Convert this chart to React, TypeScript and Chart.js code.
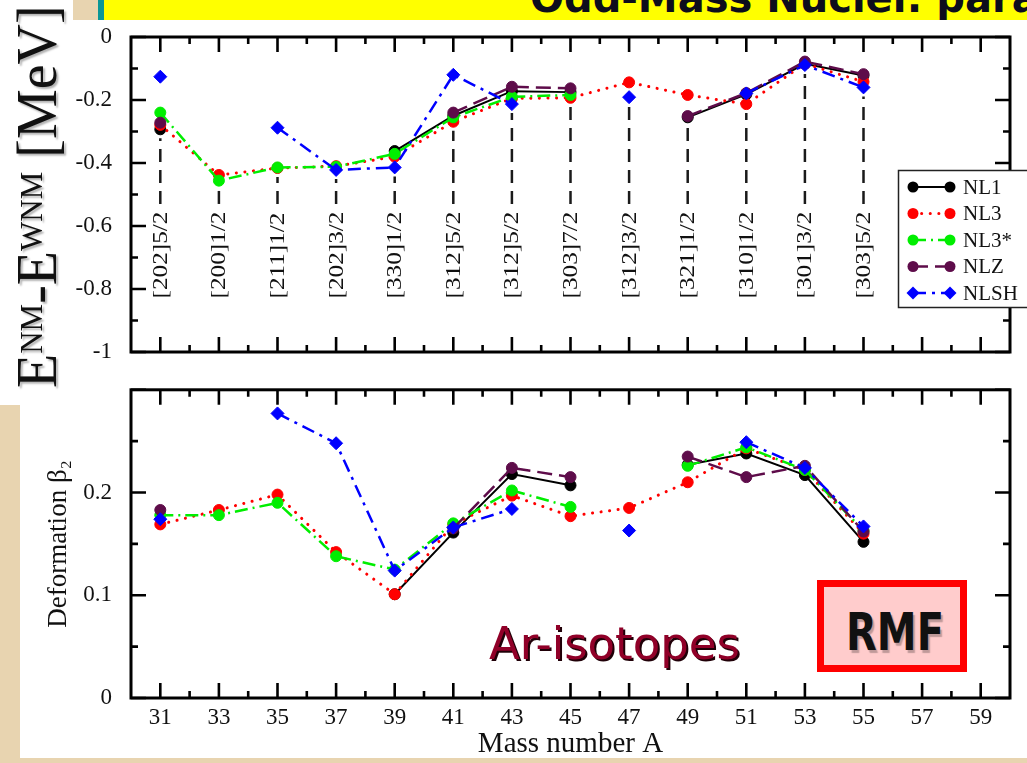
import React, { useEffect, useRef } from 'react';
import { Chart, registerables } from 'chart.js';

Chart.register(...registerables);

// ---------------- data ----------------
const massNumbers = [31, 33, 35, 37, 39, 41, 43, 45, 47, 49, 51, 53, 55];
const orbitalLabels = ['[202]5/2', '[200]1/2', '[211]1/2', '[202]3/2', '[330]1/2', '[312]5/2', '[312]5/2', '[303]7/2', '[312]3/2', '[321]1/2', '[310]1/2', '[301]3/2', '[303]5/2'];
const xTickLabels = [31, 33, 35, 37, 39, 41, 43, 45, 47, 49, 51, 53, 55, 57, 59];
const energyTickLabels = [0, -0.2, -0.4, -0.6, -0.8, -1];
const betaTickLabels = [0, 0.1, 0.2];
const seriesNames = ['NL1', 'NL3', 'NL3*', 'NLZ', 'NLSH'];

// E^NM - E^WNM [MeV]  (null = not computed)
const energyNL1 = [-0.293, null, null, null, -0.362, -0.25, -0.172, -0.175, null, -0.255, -0.182, -0.085, -0.122];
const energyNL3 = [-0.279, -0.438, -0.416, -0.41, -0.38, -0.269, -0.195, -0.193, -0.144, -0.184, -0.213, -0.085, -0.142];
const energyNL3s = [-0.24, -0.456, -0.414, -0.412, -0.371, -0.255, -0.19, -0.184, null, null, null, null, null];
const energyNLZ = [-0.272, null, null, null, null, -0.24, -0.158, -0.163, null, -0.251, -0.178, -0.078, -0.118];
const energyNLSH = [-0.126, null, -0.288, -0.422, -0.414, -0.12, -0.213, null, -0.191, null, -0.179, -0.089, -0.16];

// Deformation beta2
const betaNL1 = [null, null, null, null, 0.101, 0.161, 0.218, 0.207, null, 0.227, 0.238, 0.217, 0.152];
const betaNL3 = [0.169, 0.183, 0.198, 0.142, 0.101, 0.169, 0.197, 0.177, 0.185, 0.21, 0.243, 0.222, 0.16];
const betaNL3s = [0.178, 0.178, 0.19, 0.138, 0.125, 0.17, 0.202, 0.186, null, 0.226, 0.244, 0.222, 0.163];
const betaNLZ = [0.183, null, null, null, null, 0.165, 0.224, 0.215, null, 0.235, 0.215, 0.226, 0.162];
const betaNLSH = [0.174, null, 0.277, 0.248, 0.124, 0.166, 0.184, null, 0.163, null, 0.249, 0.224, 0.167];

// ---------------- styles ----------------
const SERIF = '"Liberation Serif", "Times New Roman", serif';
const BEIGE = '#e8d4b0';

const seriesStyles: any[] = [
  { color: '#000000', width: 2, dash: [], cap: 'butt', point: 'circle', radius: 5.5 },
  { color: '#ff0000', width: 3, dash: [0.1, 8.5], cap: 'round', point: 'circle', radius: 5.5 },
  { color: '#00ee00', width: 2.5, dash: [13, 5, 2, 5], cap: 'butt', point: 'circle', radius: 5.5 },
  { color: '#5e0c4a', width: 2.5, dash: [15, 7], cap: 'butt', point: 'circle', radius: 5.5 },
  { color: '#0000ff', width: 2.5, dash: [13, 6, 3, 6], cap: 'butt', point: 'rectRot', radius: 6.5 },
];

const xMinorTicks = xTickLabels.slice(0, -1).map((v) => v + 1);
const energyMinorTicks = energyTickLabels.slice(0, -1).map((v) => v - 0.1);
const betaMajorTicks = [...betaTickLabels, 0.3];
const betaMinorTicks = betaMajorTicks.slice(0, -1).map((v) => v + 0.05);

const fmt = (v: number) => String(Number(Number(v).toFixed(2)));

function makeDatasets(series: (number | null)[][]) {
  return series.map((vals, i) => {
    const s = seriesStyles[i];
    return {
      label: seriesNames[i],
      data: massNumbers.map((m, j) => ({ x: m, y: vals[j] })),
      borderColor: s.color,
      backgroundColor: s.color,
      borderWidth: s.width,
      borderDash: s.dash,
      borderCapStyle: s.cap,
      pointStyle: s.point,
      pointRadius: s.radius,
      pointBackgroundColor: s.color,
      pointBorderColor: s.color,
      pointBorderWidth: 1,
      spanGaps: false,
      tension: 0,
      order: 5 - i,
    };
  });
}

function makeFramePlugin(id: string, xMaj: number[], xMin: number[], yMaj: number[], yMin: number[]) {
  return {
    id,
    afterDatasetsDraw(chart: any) {
      const { ctx, chartArea: ca, scales } = chart;
      const xs = scales.x;
      const ys = scales.y;
      ctx.save();
      ctx.setLineDash([]);
      ctx.strokeStyle = '#000';
      ctx.lineCap = 'butt';
      ctx.lineWidth = 3;
      ctx.strokeRect(ca.left, ca.top, ca.right - ca.left, ca.bottom - ca.top);
      ctx.lineWidth = 2.6;
      ctx.beginPath();
      const tx = (v: number, len: number) => {
        const p = xs.getPixelForValue(v);
        ctx.moveTo(p, ca.bottom); ctx.lineTo(p, ca.bottom - len);
        ctx.moveTo(p, ca.top); ctx.lineTo(p, ca.top + len);
      };
      const ty = (v: number, len: number) => {
        const p = ys.getPixelForValue(v);
        ctx.moveTo(ca.left, p); ctx.lineTo(ca.left + len, p);
        ctx.moveTo(ca.right, p); ctx.lineTo(ca.right - len, p);
      };
      xMaj.forEach((v) => tx(v, 15));
      xMin.forEach((v) => tx(v, 7));
      yMaj.forEach((v) => ty(v, 15));
      yMin.forEach((v) => ty(v, 7));
      ctx.stroke();
      ctx.restore();
    },
  };
}

const orbitalLineEnd = -0.53;
const orbitalLabelBase = -0.83;

const orbitalPlugin = {
  id: 'orbitals',
  beforeDatasetsDraw(chart: any) {
    const { ctx, scales } = chart;
    const xs = scales.x;
    const ys = scales.y;
    ctx.save();
    massNumbers.forEach((m, j) => {
      const px = xs.getPixelForValue(m);
      let lowest = -Infinity;
      chart.data.datasets.forEach((ds: any) => {
        const v = ds.data[j].y;
        if (v !== null && v !== undefined) lowest = Math.max(lowest, ys.getPixelForValue(v));
      });
      const yEnd = ys.getPixelForValue(orbitalLineEnd);
      const yStart = lowest + 9;
      ctx.setLineDash([13, 8]);
      ctx.lineWidth = 2.5;
      ctx.strokeStyle = '#1a1a1a';
      ctx.beginPath();
      ctx.moveTo(px, yEnd);
      ctx.lineTo(px, yStart);
      ctx.stroke();
      ctx.setLineDash([]);
      ctx.save();
      ctx.translate(px, ys.getPixelForValue(orbitalLabelBase));
      ctx.rotate(-Math.PI / 2);
      ctx.scale(1.2, 1);
      ctx.font = '21px ' + SERIF;
      ctx.fillStyle = '#111';
      ctx.textAlign = 'left';
      ctx.textBaseline = 'middle';
      ctx.fillText(orbitalLabels[j], 0, 1);
      ctx.restore();
    });
    ctx.restore();
  },
};

function drawMarker(ctx: any, style: string, x: number, y: number, r: number) {
  ctx.beginPath();
  if (style === 'rectRot') {
    ctx.moveTo(x - r, y); ctx.lineTo(x, y - r); ctx.lineTo(x + r, y); ctx.lineTo(x, y + r); ctx.closePath();
  } else {
    ctx.arc(x, y, r, 0, Math.PI * 2);
  }
  ctx.fill();
}

const boxLegendPlugin = {
  id: 'boxLegend',
  afterDraw(chart: any) {
    const { ctx, chartArea } = chart;
    const bx = chartArea.right - 112;
    const by = chartArea.top + 133;
    const bw = 150;
    const bh = 137;
    ctx.save();
    ctx.setLineDash([]);
    ctx.fillStyle = '#fff';
    ctx.fillRect(bx, by, bw, bh);
    ctx.strokeStyle = '#222';
    ctx.lineWidth = 1.5;
    ctx.strokeRect(bx + 0.5, by + 0.5, bw, bh);
    chart.data.datasets.forEach((ds: any, i: number) => {
      const cy = by + 17 + i * 26.5;
      const x1 = bx + 15;
      const x2 = bx + 52;
      ctx.strokeStyle = ds.borderColor;
      ctx.lineWidth = ds.borderWidth;
      ctx.setLineDash(ds.borderDash || []);
      ctx.lineCap = ds.borderCapStyle || 'butt';
      ctx.beginPath();
      ctx.moveTo(x1, cy);
      ctx.lineTo(x2, cy);
      ctx.stroke();
      ctx.setLineDash([]);
      ctx.fillStyle = ds.borderColor;
      drawMarker(ctx, ds.pointStyle, x1, cy, ds.pointRadius);
      drawMarker(ctx, ds.pointStyle, x2, cy, ds.pointRadius);
      ctx.fillStyle = '#111';
      ctx.font = '21px ' + SERIF;
      ctx.textAlign = 'left';
      ctx.textBaseline = 'middle';
      ctx.fillText(ds.label, bx + 65, cy + 1);
    });
    ctx.restore();
  },
};

const tickFont = { family: SERIF, size: 23 };

function topConfig(): any {
  return {
    type: 'line',
    data: { datasets: makeDatasets([energyNL1, energyNL3, energyNL3s, energyNLZ, energyNLSH]) },
    options: {
      responsive: false,
      animation: false,
      layout: { padding: { top: 37, left: 0, right: 17, bottom: 0 } },
      plugins: { legend: { display: false }, tooltip: { enabled: false } },
      scales: {
        x: {
          type: 'linear', min: 30, max: 60,
          grid: { display: false }, border: { display: false },
          ticks: { display: false },
          afterFit(s: any) { s.height = 28; },
        },
        y: {
          type: 'linear', min: -1, max: 0,
          grid: { display: false }, border: { display: false },
          afterBuildTicks(s: any) { s.ticks = energyTickLabels.map((v) => ({ value: v })); },
          ticks: { font: tickFont, color: '#111', padding: 11, callback: (v: number) => fmt(v) },
          afterFit(s: any) { s.width = 131; },
        },
      },
    },
    plugins: [orbitalPlugin, makeFramePlugin('frameTop', xTickLabels, xMinorTicks, energyTickLabels, energyMinorTicks), boxLegendPlugin],
  };
}

function bottomConfig(): any {
  return {
    type: 'line',
    data: { datasets: makeDatasets([betaNL1, betaNL3, betaNL3s, betaNLZ, betaNLSH]) },
    options: {
      responsive: false,
      animation: false,
      layout: { padding: { top: 12, left: 0, right: 17, bottom: 0 } },
      plugins: { legend: { display: false }, tooltip: { enabled: false } },
      scales: {
        x: {
          type: 'linear', min: 30, max: 60,
          grid: { display: false }, border: { display: false },
          afterBuildTicks(s: any) { s.ticks = xTickLabels.map((v) => ({ value: v })); },
          ticks: { font: tickFont, color: '#111', padding: -2, maxRotation: 0, autoSkip: false, callback: (v: number) => fmt(v) },
          title: { display: true, text: 'Mass number A', font: { family: SERIF, size: 29, lineHeight: 1 }, color: '#111', padding: { top: 0, bottom: 4 } },
          afterFit(s: any) { s.height = 65; },
        },
        y: {
          type: 'linear', min: 0, max: 0.3,
          grid: { display: false }, border: { display: false },
          afterBuildTicks(s: any) { s.ticks = betaTickLabels.map((v) => ({ value: v })); },
          ticks: { font: tickFont, color: '#111', padding: 11, callback: (v: number) => fmt(v) },
          title: { display: true, text: 'Deformation β₂', font: { family: SERIF, size: 27, lineHeight: 1 }, color: '#111', padding: { top: 45, bottom: 0 } },
          afterFit(s: any) { s.width = 131; },
        },
      },
    },
    plugins: [makeFramePlugin('frameBottom', xTickLabels, xMinorTicks, betaMajorTicks, betaMinorTicks)],
  };
}

export default function App() {
  const topRef = useRef<HTMLCanvasElement>(null);
  const botRef = useRef<HTMLCanvasElement>(null);

  useEffect(() => {
    const top = new Chart(topRef.current as HTMLCanvasElement, topConfig());
    const bot = new Chart(botRef.current as HTMLCanvasElement, bottomConfig());
    return () => {
      top.destroy();
      bot.destroy();
    };
  }, []);

  const abs = (l: number, t: number, w: number, h: number, bg: string): React.CSSProperties => ({
    position: 'absolute', left: l, top: t, width: w, height: h, background: bg,
  });

  return (
    <div style={{ position: 'fixed', left: 0, top: 0, width: 1027, height: 763, overflow: 'hidden', background: '#fff' }}>
      <div style={abs(0, 405, 20, 358, BEIGE)} />
      <div style={abs(0, 758, 1027, 5, BEIGE)} />
      <div style={abs(73, 0, 25, 20, BEIGE)} />
      <div style={abs(98, 0, 6, 20, '#0a9696')} />
      <div style={{ ...abs(104, 0, 923, 20, '#ffff00'), overflow: 'hidden' }}>
        <span style={{ position: 'absolute', left: 426, top: -22, fontFamily: '"DejaVu Sans", sans-serif', fontWeight: 'bold', fontSize: 40, lineHeight: '40px', whiteSpace: 'nowrap', color: '#0d0d1c' }}>
          Odd-Mass Nuclei: param
        </span>
      </div>

      <canvas ref={botRef} width={1027} height={398} style={{ position: 'absolute', left: 0, top: 365, width: 1027, height: 398 }} />
      <canvas ref={topRef} width={1027} height={380} style={{ position: 'absolute', left: 0, top: 0, width: 1027, height: 380 }} />

      <div style={{ position: 'absolute', left: 4, top: 388, transform: 'rotate(-90deg)', transformOrigin: '0 0', whiteSpace: 'nowrap', fontFamily: SERIF, fontSize: 56, lineHeight: '56px', color: '#111', textShadow: '-2px 2px 2px rgba(0,0,0,0.3)' }}>
        E<span style={{ fontSize: 31, verticalAlign: 14 }}>NM</span>-E<span style={{ fontSize: 31, verticalAlign: 14 }}>WNM</span> [MeV]
      </div>

      <div style={{ position: 'absolute', left: 489, top: 621, fontFamily: '"DejaVu Sans", sans-serif', fontSize: 45, lineHeight: '45px', color: '#900028', whiteSpace: 'nowrap', textShadow: '2px 2px 0 #200008' }}>
        Ar-isotopes
      </div>

      <div style={{ position: 'absolute', left: 817, top: 580, width: 150, height: 92, boxSizing: 'border-box', border: '7px solid #ff0000', background: '#ffcccc', display: 'flex', alignItems: 'center', justifyContent: 'center' }}>
        <span style={{ display: 'inline-block', fontFamily: '"DejaVu Sans", sans-serif', fontWeight: 'bold', fontSize: 40, lineHeight: '40px', color: '#111', transform: 'scaleY(1.3)', textShadow: '2px 2px 1px rgba(0,0,0,0.25)', marginTop: 12, marginLeft: 6 }}>
          RMF
        </span>
      </div>
    </div>
  );
}
